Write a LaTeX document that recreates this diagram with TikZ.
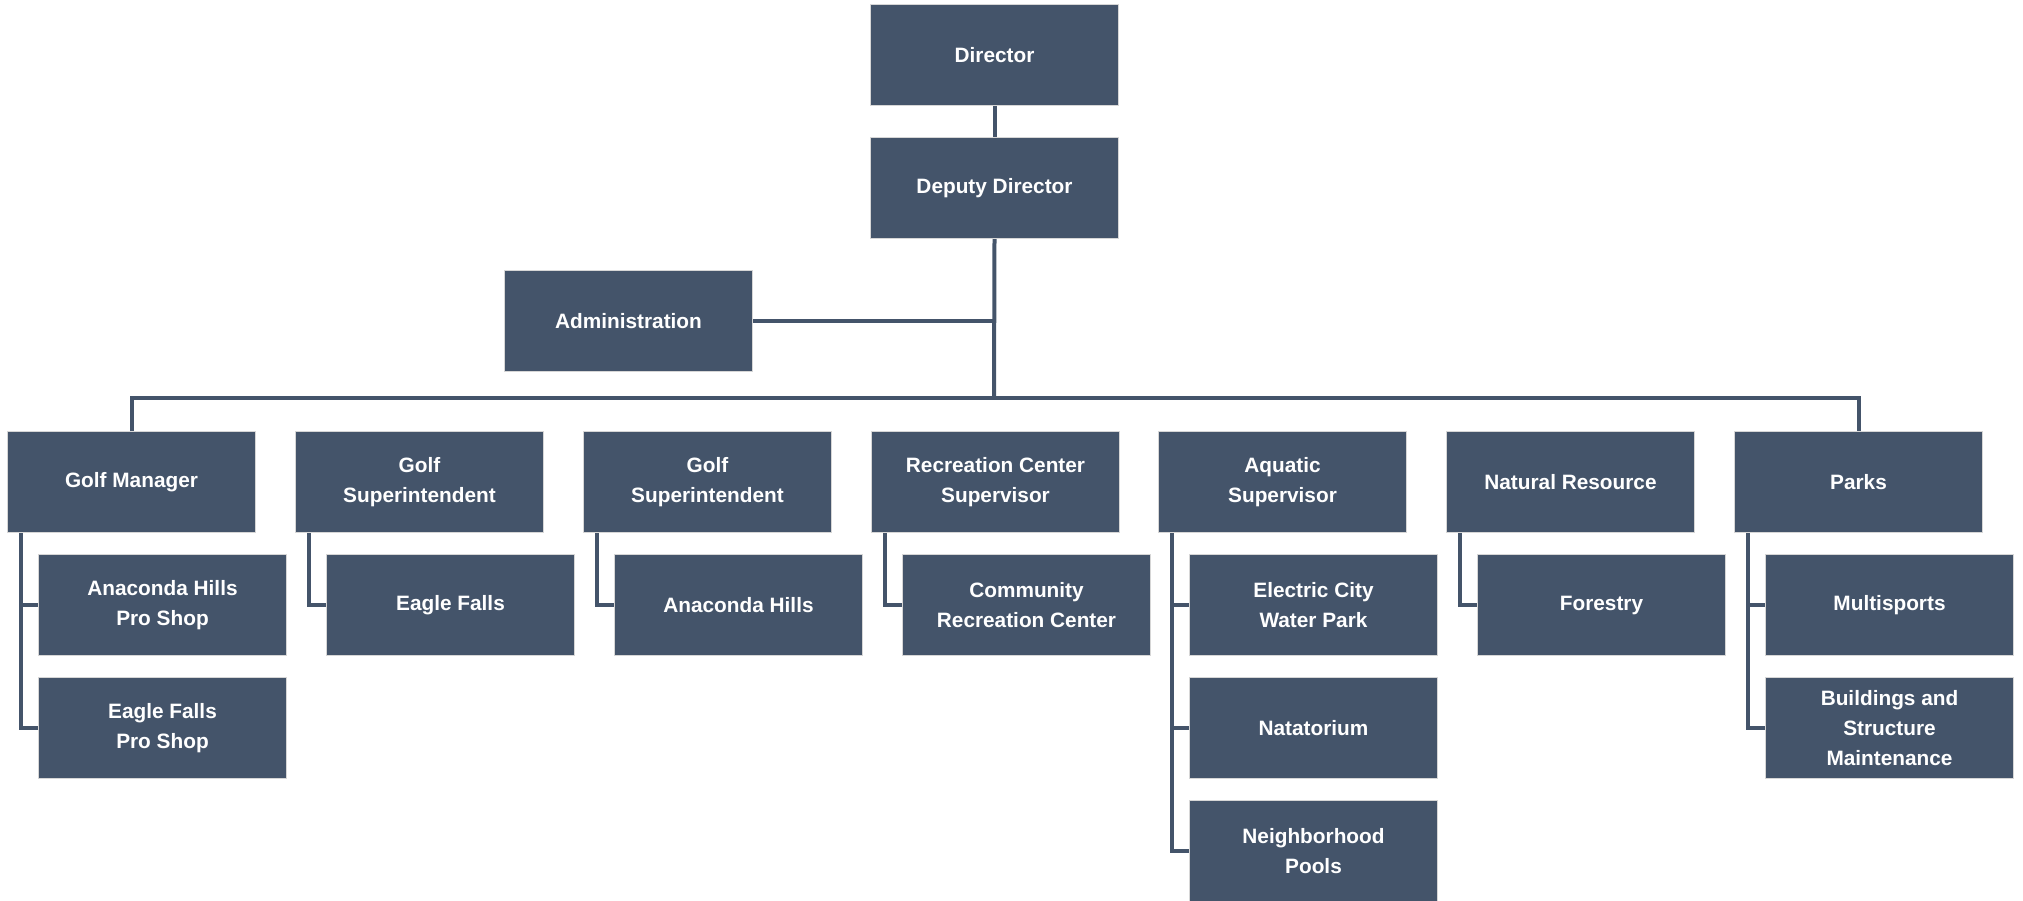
\documentclass[tikz,border=0pt]{standalone}
\usepackage{fontspec}
\setmainfont{Liberation Sans}
\definecolor{boxfill}{HTML}{44546A}
\definecolor{boxedge}{HTML}{D6D6D6}
\begin{document}
\begin{tikzpicture}[x=0.5pt,y=-0.5pt,
  orgbox/.style={rectangle, anchor=north west, fill=boxfill, draw=boxedge, line width=0.5pt,
    minimum width=124pt, minimum height=50.5pt, inner sep=1pt, align=center, text=white,
    font=\fontsize{10.4}{15}\selectfont\bfseries},
  link/.style={draw=boxfill, line width=2pt}]
\useasboundingbox (0,0) rectangle (2023,900);

\node[orgbox] (dir) at (870,4) {Director};
\node[orgbox] (dep) at (870,137) {Deputy Director};
\node[orgbox] (adm) at (504,270) {Administration};
\coordinate (bus) at (994,398);

\node[orgbox] (c1) at (7,431) {Golf Manager};
\node[orgbox] (c2) at (295,431) {Golf\\Superintendent};
\node[orgbox] (c3) at (583,431) {Golf\\Superintendent};
\node[orgbox] (c4) at (871,431) {Recreation Center\\Supervisor};
\node[orgbox] (c5) at (1158,431) {Aquatic\\Supervisor};
\node[orgbox] (c6) at (1446,431) {Natural Resource};
\node[orgbox] (c7) at (1734,431) {Parks};

\node[orgbox] (c1a) at (38,554) {Anaconda Hills\\Pro Shop};
\node[orgbox] (c1b) at (38,677) {Eagle Falls\\Pro Shop};
\node[orgbox] (c2a) at (326,554) {Eagle Falls};
\node[orgbox] (c3a) at (614,554) {Anaconda Hills};
\node[orgbox] (c4a) at (902,554) {Community\\Recreation Center};
\node[orgbox] (c5a) at (1189,554) {Electric City\\Water Park};
\node[orgbox] (c5b) at (1189,677) {Natatorium};
\node[orgbox] (c5c) at (1189,800) {Neighborhood\\Pools};
\node[orgbox] (c6a) at (1477,554) {Forestry};
\node[orgbox] (c7a) at (1765,554) {Multisports};
\node[orgbox] (c7b) at (1765,677) {Buildings and\\Structure\\Maintenance};

\draw[link] (dir.south) -- (dep.north);
\draw[link] (dep.south) -- (bus);
\draw[link] (adm.east) -- (adm.east -| dep.south);
\draw[link] (c1.north) |- (bus) -| (c7.north);

\draw[link] ([xshift=7pt]c1.south west) |- (c1a.west);
\draw[link] ([xshift=7pt]c1.south west) |- (c1b.west);
\draw[link] ([xshift=7pt]c2.south west) |- (c2a.west);
\draw[link] ([xshift=7pt]c3.south west) |- (c3a.west);
\draw[link] ([xshift=7pt]c4.south west) |- (c4a.west);
\draw[link] ([xshift=7pt]c5.south west) |- (c5a.west);
\draw[link] ([xshift=7pt]c5.south west) |- (c5b.west);
\draw[link] ([xshift=7pt]c5.south west) |- (c5c.west);
\draw[link] ([xshift=7pt]c6.south west) |- (c6a.west);
\draw[link] ([xshift=7pt]c7.south west) |- (c7a.west);
\draw[link] ([xshift=7pt]c7.south west) |- (c7b.west);
\end{tikzpicture}
\end{document}
